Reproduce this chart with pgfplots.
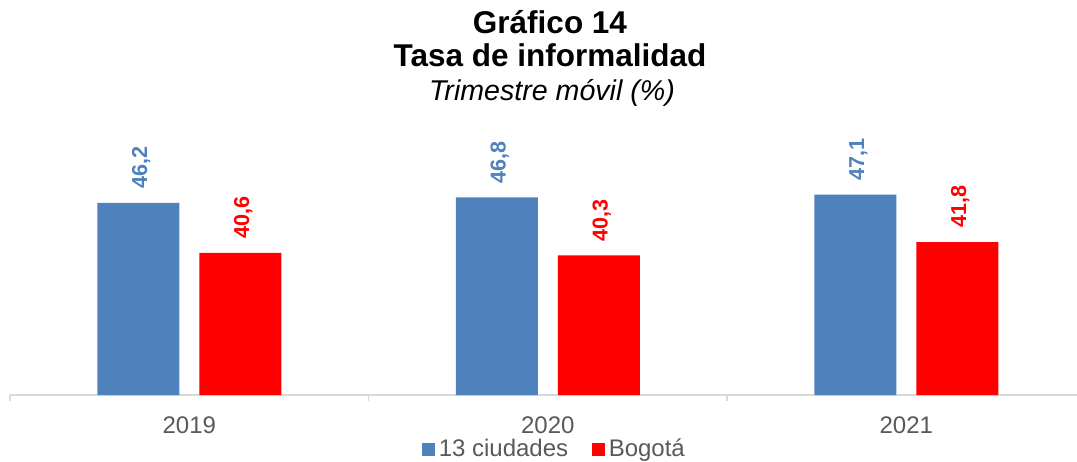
\documentclass[border=0pt]{standalone}
\usepackage{fontspec}
\setmainfont{Liberation Sans}
\usepackage{pgfplots}
\pgfplotsset{compat=1.18}
\definecolor{cblue}{HTML}{4F81BD}
\definecolor{cred}{HTML}{FF0000}
\definecolor{tgray}{HTML}{595959}
\definecolor{lgray}{HTML}{D9D9D9}
\begin{document}
\begin{tikzpicture}
\path[use as bounding box] (0,0) rectangle (538.5pt,230.5pt);
\node[anchor=base,font=\fontsize{15.75}{17}\selectfont\bfseries] at (275pt,213.5pt) {Gráfico 14};
\node[anchor=base,font=\fontsize{15.75}{17}\selectfont\bfseries] at (275pt,197pt) {Tasa de informalidad};
\node[anchor=base,font=\fontsize{14.3}{16}\selectfont\itshape] at (276pt,180pt) {Trimestre móvil (\%)};
\begin{axis}[
  at={(5pt,33pt)}, anchor=south west,
  scale only axis, width=533.5pt, height=132.5pt,
  xmin=-0.5, xmax=2.476, ymin=24.67, ymax=54.35,
  clip=false,
  ybar=10pt, bar width=41pt,
  axis x line*=bottom, axis y line=none,
  x axis line style={lgray, line width=0.8pt, -},
  xtick={0,1,2}, xticklabels={2019,2020,2021},
  major tick length=0pt,
  xticklabel style={font=\fontsize{12}{14}\selectfont, text=tgray, anchor=base, yshift=-19.5pt},
  extra x ticks={-0.5,0.5,1.5}, extra x tick labels={},
  extra x tick style={major tick length=3pt, tick align=outside, tick style={lgray, line width=0.8pt}},
  nodes near coords={\pgfmathprintnumber[assume math mode=true, use comma, fixed, fixed zerofill, precision=1]{\pgfplotspointmeta}},
  every node near coord/.append style={rotate=90, anchor=west, font=\fontsize{10.8}{12}\selectfont\bfseries, xshift=3.5pt, yshift=-1.5pt},
  legend columns=2,
  legend style={draw=none, fill=none, at={(0.5,-33pt)}, anchor=south, xshift=6pt, yshift=-3.5pt,
    font=\fontsize{12}{14}\selectfont, text=tgray,
    /tikz/every even column/.append style={column sep=10pt}},
  legend image code/.code={\fill[#1] (0pt,-3.2pt) rectangle (6.3pt,3.3pt);},
]
\addplot[fill=cblue, draw=none, every node near coord/.append style={text=cblue}] coordinates {(0,46.2) (1,46.8) (2,47.1)};
\addplot[fill=cred, draw=none, every node near coord/.append style={text=cred}] coordinates {(0,40.6) (1,40.3) (2,41.8)};
\legend{13 ciudades, Bogotá}
\end{axis}
\end{tikzpicture}
\end{document}
